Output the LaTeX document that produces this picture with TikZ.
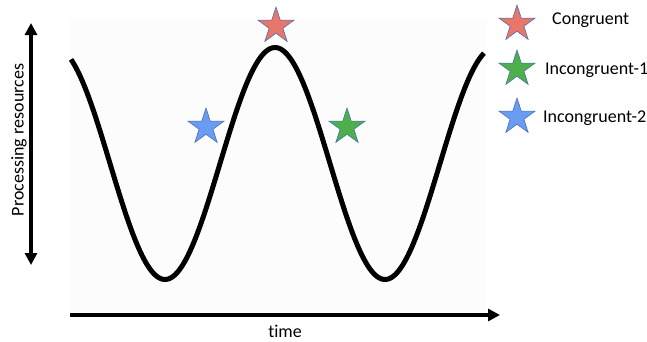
\documentclass[tikz,border=0pt]{standalone}
\usepackage{fontspec}
\setmainfont[Ligatures=NoCommon]{Carlito}
\usetikzlibrary{arrows.meta,shapes.geometric}
\definecolor{starred}{HTML}{E8766A}
\definecolor{stargreen}{HTML}{4DB04A}
\definecolor{starblue}{HTML}{6B9CF3}
\definecolor{staredge}{HTML}{4A6FB0}
\definecolor{bgpanel}{HTML}{FCFCFC}
\tikzset{
  starmark/.style={star, star points=5, star point ratio=2.618, inner sep=0pt,
    minimum size=38pt, draw=staredge, line width=0.6pt},
  axisline/.style={line width=4pt, -{Triangle[length=12pt,width=12pt]}},
  lbl/.style={font=\fontsize{18}{21}\selectfont, inner sep=0pt},
  wave/.style={line width=5pt}
}
\begin{document}
\begin{tikzpicture}[x=1pt,y=-1pt]
\useasboundingbox (0,0) rectangle (647,341);
\fill[bgpanel] (70,20) rectangle (487,312);
% axes
\coordinate (ybot) at (31,265);
\coordinate (ytop) at (31,23);
\coordinate (xl) at (70,315);
\coordinate (xr) at (500,315);
\draw[line width=4pt, {Triangle[length=12pt,width=12pt]}-{Triangle[length=12pt,width=12pt]}] (ybot) -- (ytop);
\draw[axisline] (xl) -- (xr);
\node[lbl, rotate=90] (ylab) at (19,140) {Processing resources};
\node[lbl] (xlab) at (285,331) {time};
% wave
\draw[wave] plot[domain=71:484, samples=200, smooth] ({\x},{163.5-116*cos(1.636364*(\x-275))});
% stars on plot
\node[starmark, fill=starred] (s1) at (276,26) {};
\node[starmark, fill=starblue] (s2) at (206,127) {};
\node[starmark, fill=stargreen] (s3) at (347,127) {};
% legend
\node[starmark, fill=starred] (l1) at (517,24) {};
\node[starmark, fill=stargreen] (l2) at (517,69) {};
\node[starmark, fill=starblue] (l3) at (517,117) {};
\node[lbl, anchor=west] (t1) at (552,20) {Congruent};
\node[lbl, anchor=west] (t2) at (545,70) {Incongruent-1};
\node[lbl, anchor=west] (t3) at (543,118) {Incongruent-2};
\end{tikzpicture}
\end{document}
